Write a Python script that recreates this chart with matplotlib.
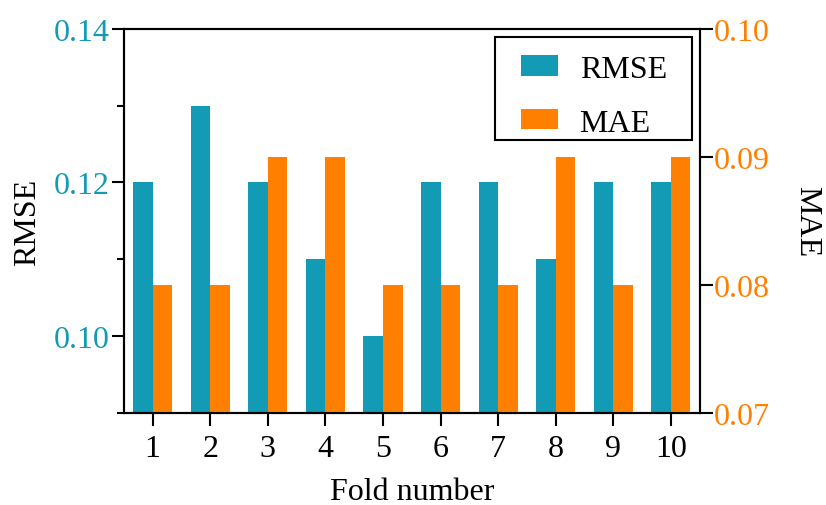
import matplotlib
matplotlib.use("Agg")
import matplotlib.pyplot as plt
import numpy as np
from matplotlib.ticker import MultipleLocator
from matplotlib.patches import Rectangle
from matplotlib.legend_handler import HandlerPatch
from matplotlib.transforms import Affine2D

plt.rcParams['font.family'] = ['Liberation Serif', 'DejaVu Serif']
plt.rcParams['mathtext.fontset'] = 'stix'

folds = [1, 2, 3, 4, 5, 6, 7, 8, 9, 10]
rmse = [0.12, 0.13, 0.12, 0.11, 0.10, 0.12, 0.12, 0.11, 0.12, 0.12]
mae = [0.08, 0.08, 0.09, 0.09, 0.08, 0.08, 0.08, 0.09, 0.08, 0.09]

teal = '#139AB4'
orange = '#FF8000'
fs = 23
SHIFT = -8  # px, moves legend content down inside its frame


class OffsetPatchHandler(HandlerPatch):
    def __init__(self, offset_px, **kw):
        super().__init__(**kw)
        self.offset_px = offset_px

    def create_artists(self, legend, orig_handle, xdescent, ydescent,
                       width, height, fontsize, trans):
        off = self.offset_px
        p = Rectangle(xy=(-xdescent + off, -ydescent), width=width - off, height=height)
        self.update_prop(p, orig_handle, legend)
        p.set_transform(trans + Affine2D().translate(0, SHIFT))
        return [p]


fig = plt.figure(figsize=(8.26, 5.06), dpi=100)
ax = fig.add_axes([0.150, 0.182, 0.697, 0.759])
ax2 = ax.twinx()

x = np.array(folds)
w = 0.34
b1 = ax.bar(x - w/2, np.array(rmse) - 0.09, width=w, bottom=0.09, color=teal, label='RMSE')
b2 = ax2.bar(x + w/2, np.array(mae) - 0.07, width=w, bottom=0.07, color=orange, label='MAE')

ax.set_xlim(0.5, 10.5)
ax.set_ylim(0.09, 0.14)
ax2.set_ylim(0.07, 0.10)
ax.set_xticks(folds)
ax.set_xticklabels([str(f) for f in folds])
ax.set_yticks([0.10, 0.12, 0.14])
ax.set_yticklabels(['0.10', '0.12', '0.14'])
ax.yaxis.set_minor_locator(MultipleLocator(0.01))
ax2.set_yticks([0.07, 0.08, 0.09, 0.10])
ax2.set_yticklabels(['0.07', '0.08', '0.09', '0.10'])

for a in (ax, ax2):
    for s in a.spines.values():
        s.set_linewidth(1.5)
    a.tick_params(which='major', length=9, width=1.5, labelsize=fs, direction='out')
    a.tick_params(which='minor', length=5, width=1.5)

ax.tick_params(axis='y', which='both', labelcolor=teal)
ax2.tick_params(axis='y', labelcolor=orange)
ax.tick_params(axis='x', pad=6)
ax.tick_params(axis='y', pad=1)
ax2.tick_params(axis='y', pad=1)

ax.set_xlabel('Fold number', fontsize=fs, labelpad=10)
ax.set_ylabel('RMSE', fontsize=fs, labelpad=9)
ax2.set_ylabel('MAE', fontsize=fs, rotation=270, labelpad=37)

h1 = b1.patches[0]
h2 = b2.patches[0]
hmap = {h1: OffsetPatchHandler(12), h2: OffsetPatchHandler(12)}
leg = ax2.legend([h1, h2], ['RMSE', 'MAE'], loc='upper right', fontsize=fs,
                 bbox_to_anchor=(0.630, 0.0, 0.370, 1.0), mode='expand',
                 frameon=True, fancybox=False, edgecolor='black', framealpha=1,
                 borderaxespad=0.25, handlelength=1.69, handleheight=0.59,
                 handletextpad=0.66, labelspacing=0.78, borderpad=0.31,
                 handler_map=hmap)
leg.get_frame().set_linewidth(1.5)
for t in leg.get_texts():
    t.set_transform(t.get_transform() + Affine2D().translate(0, SHIFT))

fig.savefig('out.png', dpi=100)
